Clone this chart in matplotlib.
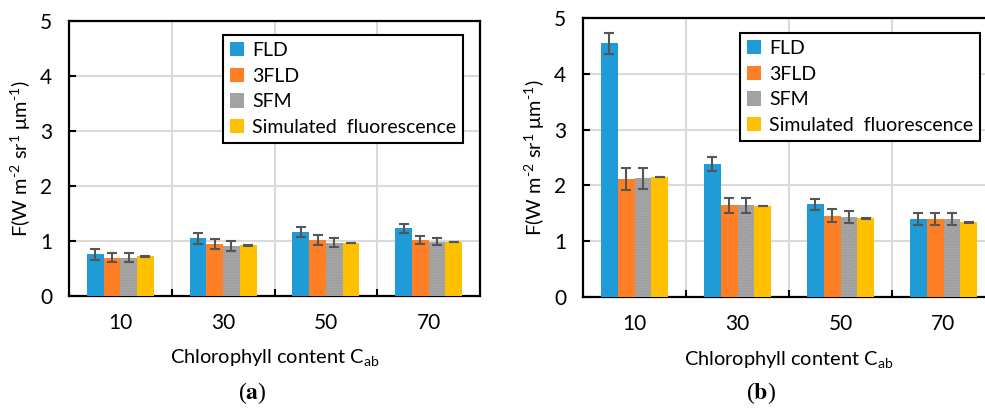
import numpy as np
import matplotlib
matplotlib.use("Agg")
import matplotlib.pyplot as plt

# ---- data ----
categories = ["10", "30", "50", "70"]
series = ["FLD", "3FLD", "SFM", "Simulated  fluorescence"]

a_fld = [0.76, 1.05, 1.17, 1.23]
a_3fld = [0.70, 0.94, 1.01, 1.02]
a_sfm = [0.70, 0.91, 0.97, 0.99]
a_sim = [0.72, 0.92, 0.96, 0.98]
a_fld_err = [0.10, 0.10, 0.09, 0.08]
a_3fld_err = [0.09, 0.09, 0.09, 0.07]
a_sfm_err = [0.09, 0.09, 0.08, 0.07]
a_sim_err = [0.005, 0.005, 0.005, 0.005]

b_fld = [4.55, 2.38, 1.66, 1.40]
b_3fld = [2.11, 1.64, 1.46, 1.40]
b_sfm = [2.13, 1.64, 1.44, 1.40]
b_sim = [2.15, 1.63, 1.41, 1.34]
b_fld_err = [0.19, 0.13, 0.10, 0.11]
b_3fld_err = [0.20, 0.13, 0.11, 0.11]
b_sfm_err = [0.19, 0.13, 0.11, 0.11]
b_sim_err = [0.005, 0.005, 0.005, 0.005]

yticks = [0, 1, 2, 3, 4, 5]
colors = ["#1F9BD7", "#FF7F27", "#A6A6A6", "#FFC000"]

plt.rcParams["font.family"] = ["Lato", "DejaVu Sans"]
plt.rcParams["mathtext.fontset"] = "custom"
plt.rcParams["mathtext.rm"] = "Lato"
plt.rcParams["mathtext.it"] = "Lato:italic"
plt.rcParams["mathtext.bf"] = "Lato:bold"
plt.rcParams["hatch.linewidth"] = 0.6

W, H = 985, 408
fig = plt.figure(figsize=(W / 100, H / 100), dpi=100)


def px_axes(l, r, t, b):
    return [l / W, 1 - b / H, (r - l) / W, (b - t) / H]


ax_a = fig.add_axes(px_axes(69, 480, 21, 296))
ax_b = fig.add_axes(px_axes(583, 995, 18, 297))

panels = [
    (ax_a, [a_fld, a_3fld, a_sfm, a_sim], [a_fld_err, a_3fld_err, a_sfm_err, a_sim_err], (0.9586, 0.949)),
    (ax_b, [b_fld, b_3fld, b_sfm, b_sim], [b_fld_err, b_3fld_err, b_sfm_err, b_sim_err], (0.9636, 0.946)),
]

x = np.arange(len(categories))
bw = 0.1625
fs_tick = 15
fs_leg = 14
fs_lab = 14.4

for ax, vals, errs, leg_anchor in panels:
    for i, (v, e) in enumerate(zip(vals, errs)):
        pos = x + (i - 1.5) * bw
        kw = dict(color=colors[i], width=bw, linewidth=0, zorder=3)
        if i == 2:
            kw.update(hatch="......", edgecolor="#959595")
        ax.bar(pos, v, label=series[i], **kw)
        ax.errorbar(pos, v, yerr=e, fmt="none", ecolor="#555555",
                    elinewidth=1.5, capsize=3.6, capthick=1.5, zorder=4)
    ax.set_xlim(-0.5, len(categories) - 0.5)
    ax.set_ylim(0, 5)
    ax.set_yticks(yticks)
    ax.set_xticks(x)
    ax.set_xticklabels(categories)
    ax.set_xticks(x[:-1] + 0.5, minor=True)
    ax.tick_params(axis="x", which="major", length=0, pad=12, labelsize=fs_tick)
    ax.tick_params(axis="x", which="minor", direction="in", length=5, width=1.5)
    ax.tick_params(axis="y", direction="in", length=5, width=1.5, pad=12, labelsize=fs_tick)
    ax.grid(axis="y", which="major", color="#DADADA", linewidth=1.5, zorder=0)
    ax.grid(axis="x", which="minor", color="#DADADA", linewidth=1.5, zorder=0)
    ax.set_axisbelow(True)
    for sp in ax.spines.values():
        sp.set_linewidth(1.6)
        sp.set_color("black")
    ax.text(0.5, -0.225, r"Chlorophyll content C$_{\mathrm{ab}}$", transform=ax.transAxes,
            ha="center", va="center", fontsize=fs_lab)
    ax.text(-0.117, 0.5, r"F(W m$^{\text{-}2}$ sr$^{1}$ μm$^{\text{-}1}$)", transform=ax.transAxes,
            rotation=90, ha="center", va="center", fontsize=fs_lab)
    leg = ax.legend(loc="upper right", bbox_to_anchor=leg_anchor, borderaxespad=0,
                    fancybox=False, edgecolor="black", framealpha=1, fontsize=fs_leg,
                    handlelength=0.75, handleheight=0.75, handletextpad=0.4,
                    labelspacing=0.45, borderpad=0.35)
    leg.get_frame().set_linewidth(1.5)
    leg.set_zorder(10)

fig.text(252 / W, 1 - 393 / H, r"($\mathbf{a}$)", ha="center", va="center",
         fontsize=17, family="Liberation Serif", math_fontfamily="stix")
fig.text(761 / W, 1 - 393 / H, r"($\mathbf{b}$)", ha="center", va="center",
         fontsize=17, family="Liberation Serif", math_fontfamily="stix")

fig.savefig("out.png", dpi=100)
